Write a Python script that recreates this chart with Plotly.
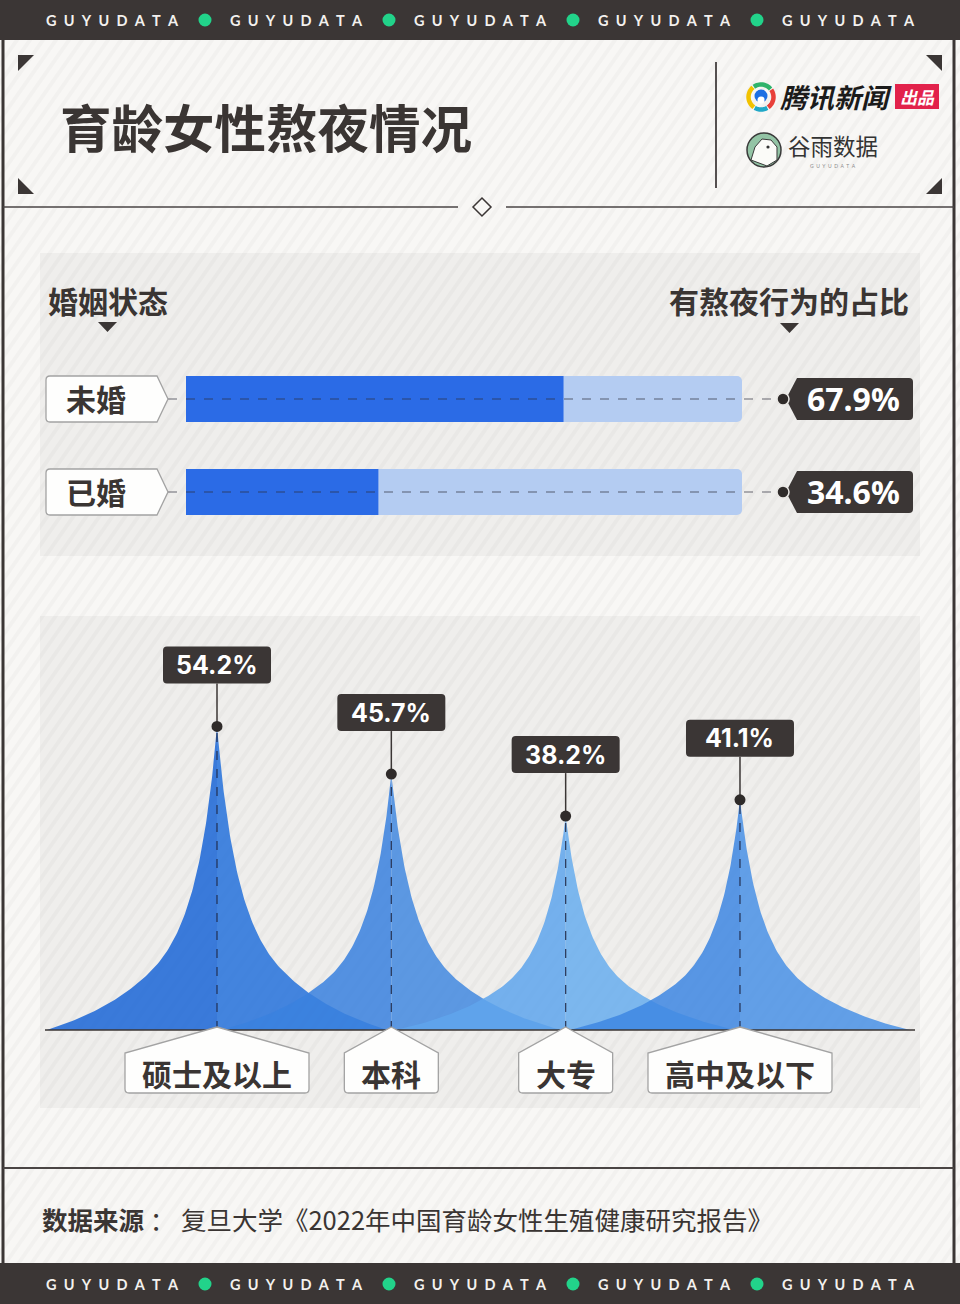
import math
import plotly.graph_objects as go

# ---------------- data ----------------
marital_status = ["未婚", "已婚"]
marital_share = [67.9, 34.6]
marital_full_scale = 100

education_level = ["硕士及以上", "本科", "大专", "高中及以下"]
education_share = [54.2, 45.7, 38.2, 41.1]

brand_ticker = ["GUYUDATA", "GUYUDATA", "GUYUDATA", "GUYUDATA", "GUYUDATA"]
title_text = "育龄女性熬夜情况"
left_header = "婚姻状态"
right_header = "有熬夜行为的占比"
source_label = "数据来源"
source_text = "复旦大学《2022年中国育龄女性生殖健康研究报告》"
brand_main = "腾讯新闻"
brand_tag = "出品"
brand_second = "谷雨数据"

# ---------------- style ----------------
W_PX, H_PX = 960, 1304
BG = "#f8f7f5"
PANEL = "#efeeec"
DARK = "#3b3635"
TEXT = "#3a3533"
GREEN = "#22d38a"
CJK = "Noto Sans CJK SC"
NUM = "Noto Sans, Noto Sans CJK SC"
NUM2 = "Inter, Noto Sans"
TRACK = "#b4ccf2"
FILL = "#2b6be6"
PEAK_COLORS = [("rgba(28,102,214,0.86)", "rgba(39,114,219,0.86)"),
               ("rgba(58,129,222,0.86)", "rgba(68,137,224,0.86)"),
               ("rgba(96,165,236,0.86)", "rgba(105,173,238,0.86)"),
               ("rgba(63,135,226,0.86)", "rgba(75,145,229,0.86)")]


def X(px):
    return px / W_PX


def Y(py):
    return 1 - py / H_PX


shapes = []
annotations = []


def rect(x0, y0, x1, y1, fill, layer="below", line_color=None, lw=0):
    shapes.append(dict(type="rect", xref="paper", yref="paper", x0=X(x0), x1=X(x1),
                       y0=Y(y1), y1=Y(y0), fillcolor=fill, layer=layer,
                       line=dict(width=lw, color=line_color or "rgba(0,0,0,0)")))


def poly(pts, fill, layer="below", line_color=None, lw=0, close=True):
    path = "M " + " L ".join(f"{X(a):.5f},{Y(b):.5f}" for a, b in pts) + (" Z" if close else "")
    shapes.append(dict(type="path", xref="paper", yref="paper", path=path,
                       fillcolor=fill, layer=layer,
                       line=dict(width=lw, color=line_color or "rgba(0,0,0,0)")))


def seg(x0, y0, x1, y1, color, w, layer="below", dash="solid"):
    shapes.append(dict(type="line", xref="paper", yref="paper", x0=X(x0), x1=X(x1),
                       y0=Y(y0), y1=Y(y1), layer=layer,
                       line=dict(color=color, width=w, dash=dash)))


def circle(cx, cy, r, fill, layer="below", line_color=None, lw=0):
    shapes.append(dict(type="circle", xref="paper", yref="paper", x0=X(cx - r), x1=X(cx + r),
                       y0=Y(cy + r), y1=Y(cy - r), fillcolor=fill, layer=layer,
                       line=dict(width=lw, color=line_color or "rgba(0,0,0,0)")))


def text(x, y, s, size, color=TEXT, family=CJK, bold=False, xanchor="center", italic=False):
    font = dict(size=size, color=color, family=family, weight="bold" if bold else "normal")
    if italic:
        font["style"] = "italic"
    annotations.append(dict(x=X(x), y=Y(y), xref="paper", yref="paper", text=s,
                            showarrow=False, xanchor=xanchor, yanchor="middle", font=font))


def rrect_rel(x0, y0, x1, y1, r):
    return (f"M {x0 + r},{y0} L {x1 - r},{y0} Q {x1},{y0} {x1},{y0 + r} L {x1},{y1 - r} "
            f"Q {x1},{y1} {x1 - r},{y1} L {x0 + r},{y1} Q {x0},{y1} {x0},{y1 - r} "
            f"L {x0},{y0 + r} Q {x0},{y0} {x0 + r},{y0} Z")


# ---------------- background decor ----------------
rect(0, 0, 960, 1304, BG)
rect(40, 253, 920, 556, PANEL)
rect(40, 616, 920, 1108, PANEL)

# diagonal stripes
stripe = []
step = 13
x0 = -920
while x0 < 960:
    stripe.append(f"M {X(x0):.5f},{Y(1304):.5f} L {X(x0 + 913):.5f},{Y(0):.5f}")
    x0 += step
shapes.append(dict(type="path", xref="paper", yref="paper", path=" ".join(stripe),
                   line=dict(color="rgba(0,0,0,0.022)", width=4), layer="below"))

# bands and frame
rect(0, 0, 960, 40, DARK)
rect(0, 1263, 960, 1304, DARK)
seg(3, 40, 3, 1263, DARK, 3)
seg(954, 40, 954, 1263, DARK, 3)
seg(3, 1168, 954, 1168, "#4a4544", 2)
seg(3, 207, 458, 207, "#4a4544", 1.5)
seg(506, 207, 954, 207, "#4a4544", 1.5)
poly([(482, 198), (491, 207), (482, 216), (473, 207)], BG, line_color="#3b3635", lw=1.5)

for i, word in enumerate(brand_ticker):
    cx = 112 + 184 * i
    spaced = "\u2002".join(word)
    text(cx, 20, spaced, 14.5, color="#f3f1ee", family="Lato, Noto Sans", bold=True)
    text(cx, 1284, spaced, 14.5, color="#f3f1ee", family="Lato, Noto Sans", bold=True)
    if i < len(brand_ticker) - 1:
        circle(cx + 93, 20, 6.5, GREEN)
        circle(cx + 93, 1284, 6.5, GREEN)

# corner triangles
poly([(18, 55), (34, 55), (18, 71)], DARK)
poly([(18, 178), (18, 194), (34, 194)], DARK)
poly([(926, 55), (942, 55), (942, 71)], DARK)
poly([(942, 178), (942, 194), (926, 194)], DARK)
seg(716, 62, 716, 188, "#555050", 2)

text(58, 125, title_text, 51.5, bold=True, xanchor="left")


# Tencent-style logo
def arc(cx, cy, r, a0, a1, color, w):
    pts = []
    n = 16
    for k in range(n + 1):
        a = math.radians(a0 + (a1 - a0) * k / n)
        pts.append((cx + r * math.cos(a), cy - r * math.sin(a)))
    poly(pts, "rgba(0,0,0,0)", line_color=color, lw=w, close=False)


arc(761, 97, 12.5, 130, 235, "#f2c200", 4.5)
arc(761, 97, 12.5, 40, 125, "#2fb36b", 4.5)
arc(761, 97, 12.5, -55, 35, "#e8403a", 4.5)
arc(761, 97, 12.5, 240, 300, "#20a8c8", 4.5)
circle(761, 96, 6.5, "#1d6fe3")
circle(761, 100, 3.5, "#ffffff")
text(836, 97, brand_main, 27, color="#1b1b1b", bold=True, italic=True)
rect(895, 84, 939, 109, "#e2224b")
text(917, 96, brand_tag, 17, color="#ffffff", bold=True, italic=True)

circle(764, 150, 17, "#93c4a5", line_color="#3a3a3a", lw=1.5)
poly([(751, 160), (755, 147), (762, 139), (771, 140), (777, 147), (777, 160), (767, 166)],
     "#fbfbf8", line_color="#3a3a3a", lw=1)
circle(768, 147, 1.6, "#333333")
text(833, 145, brand_second, 22.5, color="#333333")
text(833, 166, "\u2002".join("GUYUDATA"), 5, color="#8a8a8a", family="Lato")

# ---------------- panel 1 : marital status bars ----------------
text(46, 300, left_header, 30, bold=True, xanchor="left")
text(911, 300, right_header, 30, bold=True, xanchor="right")
poly([(98, 322), (117, 322), (107.5, 332)], DARK)
poly([(780, 323), (799, 323), (789.5, 333)], DARK)

rows = list(range(len(marital_status)))

# bar axis mapping: value 0 -> px 186, 100 -> px 742 ; rows 93 px apart with row 0 at px 399
bx_k = (742 - 186) / marital_full_scale
bx_range = [-(186 - 40) / bx_k, (920 - 186) / bx_k]
by_k = 93.0
by_range = [(556 - 399) / by_k, -(399 - 253) / by_k]

fig = go.Figure()
fig.add_trace(go.Bar(x=[marital_full_scale] * len(rows), y=rows, orientation="h",
                     width=46 / by_k, marker=dict(color=TRACK, line=dict(width=0)),
                     xaxis="x", yaxis="y", hoverinfo="skip", showlegend=False))
fig.add_trace(go.Bar(x=marital_share, y=rows, orientation="h",
                     width=46 / by_k, marker=dict(color=FILL, line=dict(width=0)),
                     xaxis="x", yaxis="y", hoverinfo="skip", showlegend=False))

for r, (name, val) in enumerate(zip(marital_status, marital_share)):
    shapes.append(dict(type="line", xref="paper", yref="y", x0=X(168), x1=X(783), y0=r, y1=r,
                       line=dict(color="rgba(45,45,60,0.7)", width=1.2, dash="dash"),
                       layer="above"))
    label_path = (f"M {X(50)},23 L {X(157)},23 L {X(168)},0 L {X(157)},-23 L {X(50)},-23 "
                  f"Q {X(46)},-23 {X(46)},-19 L {X(46)},19 Q {X(46)},23 {X(50)},23 Z")
    shapes.append(dict(type="path", xref="paper", yref="y", ysizemode="pixel", yanchor=r,
                       path=label_path, fillcolor="#fefefd",
                       line=dict(color="#a3a3a3", width=1.3), layer="above"))
    tag_path = (f"M {X(786)},0 L {X(797)},21 L {X(909)},21 Q {X(913)},21 {X(913)},17 "
                f"L {X(913)},-17 Q {X(913)},-21 {X(909)},-21 L {X(797)},-21 Z")
    shapes.append(dict(type="path", xref="paper", yref="y", ysizemode="pixel", yanchor=r,
                       path=tag_path, fillcolor=DARK, line=dict(width=0), layer="above"))
    shapes.append(dict(type="circle", xref="paper", yref="y", xsizemode="pixel", ysizemode="pixel",
                       xanchor=X(783), yanchor=r, x0=-6, x1=6, y0=-6, y1=6,
                       fillcolor="#2f2b2a", line=dict(color="#e9e7e4", width=1.5), layer="above"))
    annotations.append(dict(x=X(96), y=r, xref="paper", yref="y", text=name, showarrow=False,
                            xanchor="center", yanchor="middle", yshift=1,
                            font=dict(size=30, color=TEXT, family=CJK, weight="bold")))
    annotations.append(dict(x=X(853), y=r, xref="paper", yref="y", text=f"{val:.1f}%",
                            showarrow=False, xanchor="center", yanchor="middle",
                            font=dict(size=32, color="#ffffff", family=NUM, weight="bold")))

# ---------------- panel 2 : education peaks ----------------
cats = list(range(len(education_level)))
px_k = 174.33        # px per category
py_k = 5.6           # px per percentage point
px_range = [-(217 - 40) / px_k, (920 - 217) / px_k]
py_range = [-(1108 - 1030) / py_k, (1030 - 616) / py_k]

# peak glyph profile (in category units): heavy-tailed cusp tapered to zero at HALF_W
HALF_W = 170 / px_k
SCALE = 52 / px_k
TAPER0 = 65 / px_k
N = 120


def profile(d):
    f = 1.0 / (1.0 + d / SCALE) ** 2
    if d > TAPER0:
        f *= max(0.0, 1 - ((d - TAPER0) / (HALF_W - TAPER0)) ** 2)
    return f


for i, (c, v) in enumerate(zip(cats, education_share)):
    ds = [HALF_W * (1 - k / N) ** 2 for k in range(N + 1)]   # edge -> centre
    lx = [c - d for d in ds] + [c]
    ly = [v * profile(d) for d in ds] + [0]
    rx = [c] + [c + d for d in reversed(ds)]
    ry = [0] + [v * profile(d) for d in reversed(ds)]
    fig.add_trace(go.Scatter(x=lx, y=ly, fill="toself", mode="lines", line=dict(width=0),
                             fillcolor=PEAK_COLORS[i][0], xaxis="x2", yaxis="y2",
                             hoverinfo="skip", showlegend=False))
    fig.add_trace(go.Scatter(x=rx, y=ry, fill="toself", mode="lines", line=dict(width=0),
                             fillcolor=PEAK_COLORS[i][1], xaxis="x2", yaxis="y2",
                             hoverinfo="skip", showlegend=False))

# baseline
shapes.append(dict(type="line", xref="paper", yref="y2", x0=X(45), x1=X(915), y0=0, y1=0,
                   line=dict(color="#3b3635", width=1.5), layer="above"))

for i, (c, v, name) in enumerate(zip(cats, education_share, education_level)):
    shapes.append(dict(type="line", xref="x2", yref="y2", x0=c, x1=c, y0=0, y1=v,
                       line=dict(color="rgba(30,40,70,0.85)", width=1.3, dash="dash"),
                       layer="above"))
    shapes.append(dict(type="line", xref="x2", yref="y2", xsizemode="pixel", ysizemode="pixel",
                       xanchor=c, yanchor=v, x0=0, x1=0, y0=0, y1=43,
                       line=dict(color="#3b3635", width=1.5), layer="above"))
    shapes.append(dict(type="path", xref="x2", yref="y2", xsizemode="pixel", ysizemode="pixel",
                       xanchor=c, yanchor=v, path=rrect_rel(-54, 43, 54, 80, 4),
                       fillcolor=DARK, line=dict(width=0), layer="above"))
    shapes.append(dict(type="circle", xref="x2", yref="y2", xsizemode="pixel", ysizemode="pixel",
                       xanchor=c, yanchor=v, x0=-5.5, x1=5.5, y0=-5.5, y1=5.5,
                       fillcolor="#2f2b2a", line=dict(width=0), layer="above"))
    annotations.append(dict(x=c, y=v, xref="x2", yref="y2", yshift=61.5, text=f"{v:.1f}%",
                            showarrow=False, xanchor="center", yanchor="middle",
                            font=dict(size=25, color="#ffffff", family=NUM2, weight="bold")))
    half = 15 * len(name) + 17
    house = (f"M 0,3 L {half},-23 L {half},-59 Q {half},-63 {half - 4},-63 L {-half + 4},-63 "
             f"Q {-half},-63 {-half},-59 L {-half},-23 Z")
    shapes.append(dict(type="path", xref="x2", yref="y2", xsizemode="pixel", ysizemode="pixel",
                       xanchor=c, yanchor=0, path=house, fillcolor="#fefefd",
                       line=dict(color="#a3a3a3", width=1.3), layer="above"))
    annotations.append(dict(x=c, y=0, xref="x2", yref="y2", yshift=-43, text=name,
                            showarrow=False, xanchor="center", yanchor="middle",
                            font=dict(size=30, color=TEXT, family=CJK, weight="bold")))

# ---------------- footer ----------------
text(40, 1218, f"<b>{source_label}</b> ： {source_text}", 25.5, xanchor="left")

# ---------------- layout ----------------
ax_off = dict(visible=False, fixedrange=True, showgrid=False, zeroline=False)
fig.update_layout(
    width=W_PX, height=H_PX, margin=dict(l=0, r=0, t=0, b=0),
    paper_bgcolor=BG, plot_bgcolor="rgba(0,0,0,0)",
    barmode="overlay", barcornerradius=5, showlegend=False,
    xaxis=dict(domain=[X(40), X(920)], range=bx_range, anchor="y", **ax_off),
    yaxis=dict(domain=[Y(556), Y(253)], range=by_range, anchor="x", **ax_off),
    xaxis2=dict(domain=[X(40), X(920)], range=px_range, anchor="y2", **ax_off),
    yaxis2=dict(domain=[Y(1108), Y(616)], range=py_range, anchor="x2", **ax_off),
    shapes=shapes, annotations=annotations,
)

fig.write_html("out.html", config={"displayModeBar": False},
               post_script="document.body.style.margin='0';document.body.style.overflow='hidden';")
